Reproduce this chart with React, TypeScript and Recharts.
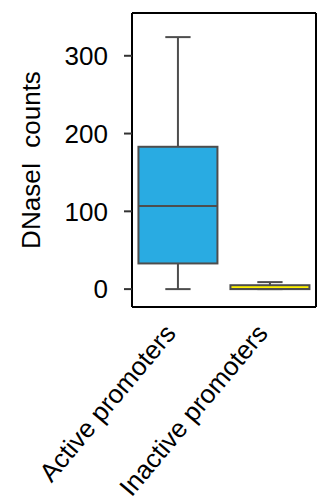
import { Bar, CartesianGrid, ComposedChart, XAxis, YAxis } from "recharts"

const groups = ["Active promoters", "Inactive promoters"]
const mins = [0, 0]
const q1s = [33, 0]
const medians = [107, 0]
const q3s = [183, 5]
const maxs = [324, 9]
const fills = ["#29ABE2", "#FFF200"]
const yTicks = [0, 100, 200, 300]

const FONT = "'Liberation Sans', Arial, sans-serif"
const GREY = "#4D4D4D"

const data = groups.map((g, i) => ({
  g,
  range: [mins[i], maxs[i]],
  min: mins[i],
  q1: q1s[i],
  med: medians[i],
  q3: q3s[i],
  max: maxs[i],
  fill: fills[i],
}))

// whole box plot drawn from the [min, max] range bar
function BoxShape(props: any) {
  const { x, y, width, height, payload } = props
  const { min, max, q1, med, q3, fill } = payload
  const top = Math.min(y, y + height)
  const h = Math.abs(height)
  const py = (v: number) => top + ((max - v) / (max - min)) * h
  const cx = x + width / 2
  const cap = width * 0.16
  return (
    <g>
      <line x1={cx} x2={cx} y1={py(max)} y2={py(q3)} stroke={GREY} strokeWidth={2} />
      <line x1={cx} x2={cx} y1={py(q1)} y2={py(min)} stroke={GREY} strokeWidth={2} />
      <line x1={cx - cap} x2={cx + cap} y1={py(max)} y2={py(max)} stroke={GREY} strokeWidth={2} />
      <line x1={cx - cap} x2={cx + cap} y1={py(min)} y2={py(min)} stroke={GREY} strokeWidth={2} />
      <rect x={x} y={py(q3)} width={width} height={py(q1) - py(q3)} fill={fill} stroke={GREY} strokeWidth={2} />
      <line x1={x} x2={x + width} y1={py(med)} y2={py(med)} stroke={GREY} strokeWidth={2} />
    </g>
  )
}

function GroupTick(props: any) {
  const { x, y, payload } = props
  const ax = x - 1
  const ay = y + 19
  return (
    <text
      x={ax}
      y={ay}
      transform={`rotate(-50 ${ax} ${ay})`}
      textAnchor="end"
      fontSize={26}
      fontFamily={FONT}
      fill="#000"
    >
      {payload.value}
    </text>
  )
}

export default function App() {
  return (
    <div style={{ position: "absolute", left: 0, top: 0, background: "#fff" }}>
      <ComposedChart
        width={326}
        height={502}
        data={data}
        barCategoryGap="7%"
        margin={{ top: 13, right: 10, bottom: 135, left: 0 }}
      >
        {/* frame around the plot area */}
        <CartesianGrid
          stroke="#000"
          strokeWidth={2}
          horizontalCoordinatesGenerator={({ offset }: any) => [offset.top, offset.top + offset.height]}
          verticalCoordinatesGenerator={({ offset }: any) => [offset.left, offset.left + offset.width]}
        />
        <XAxis
          dataKey="g"
          height={60}
          tickLine={false}
          axisLine={{ stroke: "#000", strokeWidth: 2 }}
          tick={<GroupTick />}
          interval={0}
        />
        <YAxis
          type="number"
          width={132}
          domain={[-23, 355]}
          ticks={yTicks}
          tickSize={8}
          tickMargin={16}
          tickLine={{ stroke: "#333", strokeWidth: 2 }}
          axisLine={{ stroke: "#000", strokeWidth: 2 }}
          tick={{ fontSize: 26, fontFamily: FONT, fill: "#000" }}
          label={{
            content: (p: any) => {
              const vb = p.viewBox
              const lx = vb.x + 40
              const ly = vb.y + vb.height / 2
              return (
                <text
                  x={lx}
                  y={ly}
                  transform={`rotate(-90 ${lx} ${ly})`}
                  textAnchor="middle"
                  fontSize={26}
                  fontFamily={FONT}
                  fill="#000"
                  style={{ whiteSpace: "pre" }}
                >
                  DNaseI  counts
                </text>
              )
            },
          }}
        />
        <Bar dataKey="range" shape={<BoxShape />} isAnimationActive={false} />
      </ComposedChart>
    </div>
  )
}
